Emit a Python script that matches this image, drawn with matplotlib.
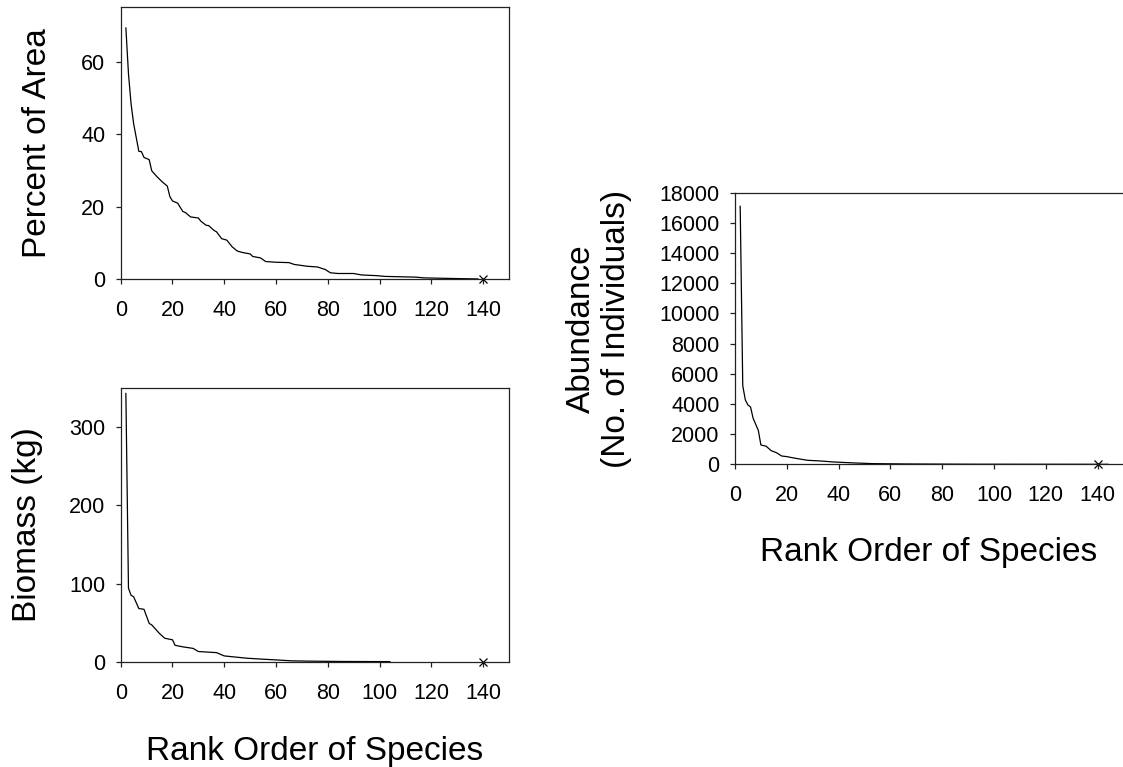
import matplotlib
matplotlib.use("Agg")
import matplotlib.pyplot as plt

plt.rcParams["font.family"] = ["Liberation Sans", "DejaVu Sans"]

# Percent of area by species rank
area_rank = [2, 3, 4, 5, 7, 8, 9, 11, 12, 14, 16, 18, 19, 20, 22, 24, 25, 27, 30, 31,
             33, 34, 36, 37, 39, 41, 43, 45, 47, 50, 51, 54, 56, 60, 65, 67, 72, 76, 79,
             81, 84, 90, 93, 99, 102, 108, 114, 117, 123, 130, 138]
area_pct = [69.3, 56.7, 48.4, 42.9, 35.3, 35.2, 33.6, 33.0, 29.9, 28.3, 26.9, 25.7, 22.8,
            21.6, 21.0, 18.7, 18.4, 17.2, 16.9, 16.0, 14.9, 14.8, 13.5, 13.1, 11.2, 10.8,
            9.0, 7.8, 7.4, 7.0, 6.3, 5.9, 4.9, 4.7, 4.6, 4.1, 3.6, 3.4, 2.7, 1.8, 1.6, 1.6,
            1.2, 1.0, 0.8, 0.7, 0.6, 0.4, 0.3, 0.2, 0.1]

# Biomass (kg) by species rank
bio_rank = [2, 3, 4, 5, 7, 9, 11, 12, 15, 17, 20, 21, 24, 28, 30, 37, 40, 45, 49, 55,
            60, 66, 73, 85, 104]
bio_kg = [343, 94, 85, 83, 68, 67, 49, 47, 36, 30, 28, 21, 19, 17, 13, 11.6, 7.4, 5.7,
          4.4, 3.2, 2.3, 1.1, 0.7, 0.3, 0.1]

# Abundance (number of individuals) by species rank
abund_rank = [2, 3, 4, 5, 6, 7, 9, 10, 12, 14, 16, 18, 20, 22, 25, 28, 33, 38, 46, 53,
              66, 92, 144]
abund_n = [17100, 5200, 4260, 3930, 3800, 3050, 2250, 1280, 1200, 900, 770, 550, 510,
           440, 350, 265, 220, 155, 90, 45, 22, 5, 0]

# Single highlighted species shown with a cross
cross_rank = 140
cross_value = 0

x_ticks = [0, 20, 40, 60, 80, 100, 120, 140]

W, H = 1123, 767
fig = plt.figure(figsize=(W / 100, H / 100), dpi=100)


def axes_px(left, top, right, bottom):
    return fig.add_axes([left / W, 1 - bottom / H, (right - left) / W, (bottom - top) / H])


def style(ax, ymax, yticks):
    ax.set_xlim(0, 150)
    ax.set_ylim(0, ymax)
    ax.set_xticks(x_ticks)
    ax.set_yticks(yticks)
    for s in ax.spines.values():
        s.set_linewidth(0.9)
        s.set_color("#222222")
    ax.tick_params(direction="out", length=3.5, width=0.9, color="#222222",
                   labelsize=15.5)
    ax.tick_params(axis="x", pad=11.5)
    ax.tick_params(axis="y", pad=7.5)


line_kw = dict(color="black", lw=0.9, solid_joinstyle="round")
cross_kw = dict(marker="x", color="black", ms=6, mew=0.9, ls="none", clip_on=False)

ax1 = axes_px(120.7, 7.3, 509, 279.3)
ax1.plot(area_rank, area_pct, **line_kw)
ax1.plot([cross_rank], [cross_value], **cross_kw)
style(ax1, 75, [0, 20, 40, 60])

ax2 = axes_px(120.7, 388, 509, 661.7)
ax2.plot(bio_rank, bio_kg, **line_kw)
ax2.plot([cross_rank], [cross_value], **cross_kw)
style(ax2, 350, [0, 100, 200, 300])

ax3 = axes_px(735, 192.7, 1123.5, 464.3)
ax3.plot(abund_rank, abund_n, **line_kw)
ax3.plot([cross_rank], [cross_value], **cross_kw)
style(ax3, 18000, list(range(0, 18001, 2000)))
ax3.spines["right"].set_visible(False)

lab = dict(fontsize=24, color="black")
fig.text(38 / W, 1 - 143.3 / H, "Percent of Area", rotation=90, ha="center", va="center", **lab)
fig.text(28 / W, 1 - 525 / H, "Biomass (kg)", rotation=90, ha="center", va="center", **lab)
fig.text(599 / W, 1 - 328.5 / H, "Abundance\n(No. of Individuals)", rotation=90,
         ha="center", va="center", multialignment="center", linespacing=1.2, **lab)
fig.text(315 / W, 1 - 760 / H, "Rank Order of Species", ha="center", va="baseline", **lab)
fig.text(929 / W, 1 - 561 / H, "Rank Order of Species", ha="center", va="baseline", **lab)

fig.savefig("out.png", dpi=100)
